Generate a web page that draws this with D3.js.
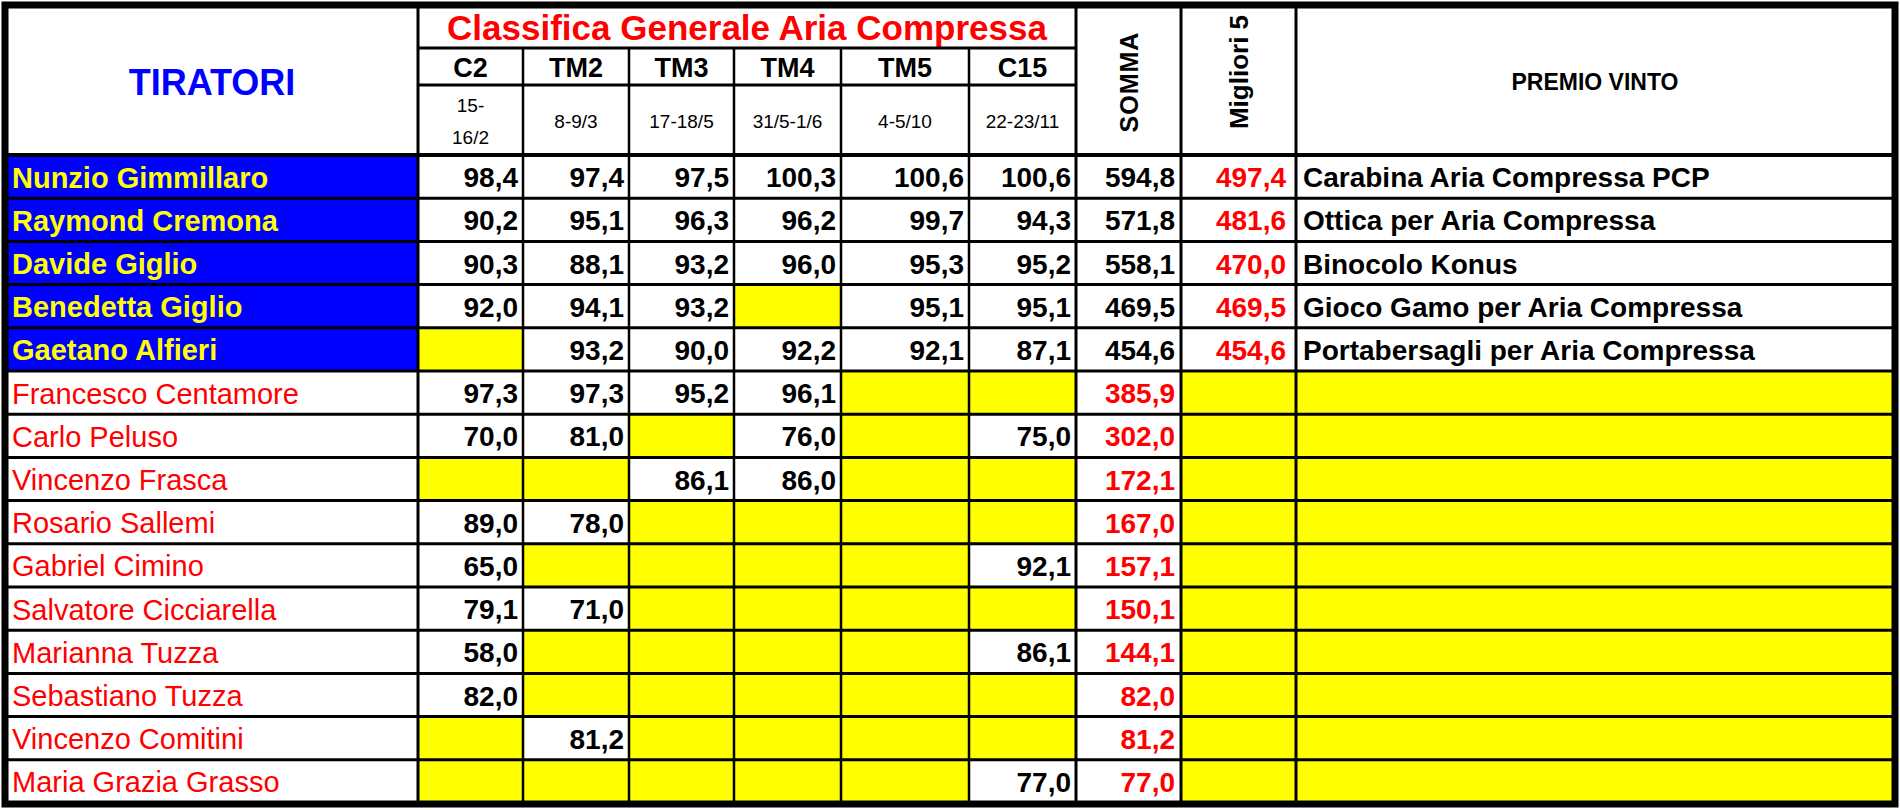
<!DOCTYPE html><html><head><meta charset="utf-8">
<script src="https://cdn.jsdelivr.net/npm/d3@7"></script>
<style>body{margin:0;background:#fff}svg{display:block}</style></head><body>
<svg id="c" width="1900" height="810"></svg>
<script>
const title = "Classifica Generale Aria Compressa";
const events = ["C2","TM2","TM3","TM4","TM5","C15"];
const dates = [["15-","16/2"],["8-9/3"],["17-18/5"],["31/5-1/6"],["4-5/10"],["22-23/11"]];
const names = ["Nunzio Gimmillaro","Raymond Cremona","Davide Giglio","Benedetta Giglio","Gaetano Alfieri","Francesco Centamore","Carlo Peluso","Vincenzo Frasca","Rosario Sallemi","Gabriel Cimino","Salvatore Cicciarella","Marianna Tuzza","Sebastiano Tuzza","Vincenzo Comitini","Maria Grazia Grasso"];
const C2  = [98.4,90.2,90.3,92.0,null,97.3,70.0,null,89.0,65.0,79.1,58.0,82.0,null,null];
const TM2 = [97.4,95.1,88.1,94.1,93.2,97.3,81.0,null,78.0,null,71.0,null,null,81.2,null];
const TM3 = [97.5,96.3,93.2,93.2,90.0,95.2,null,86.1,null,null,null,null,null,null,null];
const TM4 = [100.3,96.2,96.0,null,92.2,96.1,76.0,86.0,null,null,null,null,null,null,null];
const TM5 = [100.6,99.7,95.3,95.1,92.1,null,null,null,null,null,null,null,null,null,null];
const C15 = [100.6,94.3,95.2,95.1,87.1,null,75.0,null,null,92.1,null,86.1,null,null,77.0];
const somma = [594.8,571.8,558.1,469.5,454.6,385.9,302.0,172.1,167.0,157.1,150.1,144.1,82.0,81.2,77.0];
const migliori5 = [497.4,481.6,470.0,469.5,454.6];
const premi = ["Carabina Aria Compressa PCP","Ottica per Aria Compressa","Binocolo Konus","Gioco Gamo per Aria Compressa","Portabersagli per Aria Compressa"];
const scores = [C2,TM2,TM3,TM4,TM5,C15];
(function(){
const svg = d3.select("#c");
const F = "'Liberation Sans Narrow','Liberation Sans',Arial,sans-serif";
const colEdges = [6,418,523,629,734,841,969,1076,1181,1296,1894];
const yTop=6, h1=48, h2=85, h3=155, yBot=803;
const y = d3.scaleBand().domain(d3.range(names.length)).range([h3,yBot]).padding(0);
const fmt = v => v==null ? "" : v.toFixed(1).replace(".",",");
const YEL="#ffff00", BLUE="#0000ff", RED="#ff0000";

function cell(x0,x1,y0,y1,fill){ svg.append("rect").attr("x",x0).attr("y",y0).attr("width",x1-x0).attr("height",y1-y0).attr("fill",fill); }
function txt(x,yy,s,o){ const t=svg.append("text").attr("x",x).attr("y",yy).text(s)
  .attr("font-family",F).attr("font-size",o.size).attr("font-weight",o.bold?"bold":"normal")
  .attr("fill",o.fill||"#000").attr("text-anchor",o.anchor||"start").attr("dominant-baseline","central");
  if(o.rot) t.attr("transform",`rotate(-90,${x},${yy})`); return t; }

names.forEach((n,i)=>{
  const y0=y(i), y1=y0+y.bandwidth(), cy=y0+y.bandwidth()/2+1;
  const top5 = i<5;
  cell(colEdges[0],colEdges[1],y0,y1, top5?BLUE:"#fff");
  txt(colEdges[0]+6,cy,n,{size:29,bold:top5,fill:top5?YEL:RED});
  scores.forEach((s,j)=>{
    const v=s[i]; cell(colEdges[j+1],colEdges[j+2],y0,y1, v==null?YEL:"#fff");
    if(v!=null) txt(colEdges[j+2]-5,cy,fmt(v),{size:28,bold:true,anchor:"end"});
  });
  cell(colEdges[7],colEdges[8],y0,y1,"#fff");
  txt(colEdges[8]-6,cy,fmt(somma[i]),{size:28,bold:true,anchor:"end",fill:top5?"#000":RED});
  cell(colEdges[8],colEdges[9],y0,y1, top5?"#fff":YEL);
  if(top5) txt(colEdges[9]-10,cy,fmt(migliori5[i]),{size:28,bold:true,anchor:"end",fill:RED});
  cell(colEdges[9],colEdges[10],y0,y1, top5?"#fff":YEL);
  if(top5) txt(colEdges[9]+7,cy,premi[i],{size:28,bold:true});
});

txt((colEdges[0]+colEdges[1])/2,82,"TIRATORI",{size:36,bold:true,fill:BLUE,anchor:"middle"});
txt((colEdges[1]+colEdges[7])/2,27,title,{size:35,bold:true,fill:RED,anchor:"middle"});
events.forEach((e,j)=>{
  const cx=(colEdges[j+1]+colEdges[j+2])/2;
  txt(cx,68,e,{size:27,bold:true,anchor:"middle"});
  const d=dates[j];
  if(d.length===1) txt(cx,121,d[0],{size:19,anchor:"middle"});
  else { txt(cx,105,d[0],{size:19,anchor:"middle"}); txt(cx,137,d[1],{size:19,anchor:"middle"}); }
});
txt((colEdges[7]+colEdges[8])/2,82,"SOMMA",{size:25,bold:true,anchor:"middle",rot:true}).attr("letter-spacing",1);
txt((colEdges[8]+colEdges[9])/2,72,"Migliori 5",{size:26,bold:true,anchor:"middle",rot:true});
txt((colEdges[9]+colEdges[10])/2,82,"PREMIO VINTO",{size:23,bold:true,anchor:"middle"});

const L=(x1,y1,x2,y2,w)=>svg.append("line").attr("x1",x1).attr("y1",y1).attr("x2",x2).attr("y2",y2).attr("stroke","#000").attr("stroke-width",w);
L(colEdges[1],h1,colEdges[7],h1,3);
L(colEdges[1],h2,colEdges[7],h2,3);
colEdges.slice(1,-1).forEach((x,k)=>{
  const y0 = (k>=1&&k<=5)? h1 : yTop; L(x,y0,x,yBot,k===0||k>=6?3:2.5);
});
y.domain().forEach(i=>L(colEdges[0],y(i),colEdges[10],y(i),i===0?4:3));
svg.append("rect").attr("x",colEdges[0]-1).attr("y",yTop-1).attr("width",colEdges[10]-colEdges[0]+2).attr("height",yBot-yTop+2)
  .attr("fill","none").attr("stroke","#000").attr("stroke-width",7);
})();
</script></body></html>
